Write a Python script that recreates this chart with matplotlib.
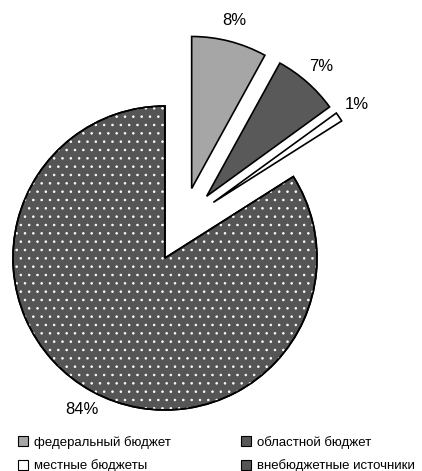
import matplotlib
matplotlib.use("Agg")
import numpy as np
import matplotlib.pyplot as plt
from matplotlib.patches import Wedge, Patch

plt.rcParams['font.family'] = ['Liberation Sans', 'DejaVu Sans']
plt.rcParams['hatch.linewidth'] = 0.6

# Data
labels = ["федеральный бюджет", "областной бюджет", "местные бюджеты", "внебюджетные источники"]
shares = [8, 7, 1, 84]
colors = ["#a6a6a6", "#595959", "#ffffff", "#555555"]

# how far (in radii) and in which direction (deg) the small slices are pulled out
explode_dist = [0.49, 0.49, 0.485, 0.0]
explode_dir = [69, 56, 49, 0]

fig = plt.figure(figsize=(4.22, 4.71), dpi=100)
ax = fig.add_axes([-0.2214, -0.0964, 1.2247, 1.0972])

wedges, texts, autotexts = ax.pie(
    shares, colors=colors, startangle=90, counterclock=False,
    autopct="%d%%", pctdistance=1.14,
    wedgeprops=dict(edgecolor="black", linewidth=1.2),
    textprops=dict(fontsize=12))

# pull out the small slices
for w, t, d, a in zip(wedges, autotexts, explode_dist, explode_dir):
    dx = d * np.cos(np.radians(a))
    dy = d * np.sin(np.radians(a))
    w.set_center((dx, dy))
    x, y = t.get_position()
    t.set_position((x + dx, y + dy))

# white dot pattern on the large slice
big = wedges[3]
big.set_zorder(0.5)
dots = Wedge(big.center, big.r, big.theta1, big.theta2, facecolor="none",
             edgecolor="white", hatch="..", linewidth=0)
ax.add_patch(dots)
outline = Wedge(big.center, big.r, big.theta1, big.theta2, facecolor="none",
                edgecolor="black", linewidth=1.2)
ax.add_patch(outline)

ax.set_xlim(-1.7, 1.7)
ax.set_ylim(-1.7, 1.7)
ax.set_aspect("equal")
ax.axis("off")

# legend, row-wise order with 2 columns
order = [0, 2, 1, 3]
handles = [Patch(facecolor=colors[i], edgecolor="black", linewidth=0.8) for i in order]
fig.legend(handles, [labels[i] for i in order], ncol=2, frameon=False,
           loc="lower left", bbox_to_anchor=(0.015, -0.028), fontsize=9.5,
           handlelength=0.75, handleheight=0.75, handletextpad=0.45,
           columnspacing=5.3, labelspacing=0.8)

fig.savefig("out.png", dpi=100)
